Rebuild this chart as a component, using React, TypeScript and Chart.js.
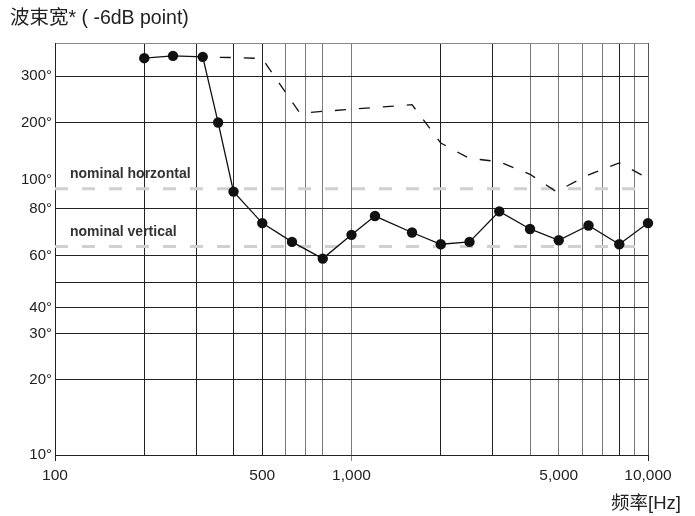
import React, { useEffect, useRef } from 'react';
import { Chart, registerables, LinearScale } from 'chart.js';

Chart.register(...registerables);

// ---------------- data ----------------
const freqHz = [200, 250, 315, 355, 400, 500, 630, 800, 1000, 1200, 1600, 2000, 2500, 3150, 4000, 5000, 6300, 8000, 10000];
const beamWidthDeg = [354, 361, 358, 201, 92, 74, 66, 59, 69, 77, 70, 65, 66, 79, 71.5, 66.7, 73, 65, 74];
const dashedFreqHz = [315, 400, 500, 670, 1600, 2000, 2200, 2500, 3150, 4000, 4900, 6300, 8000, 10000];
const dashedDeg = [357, 356, 353, 221, 239, 165, 153, 138, 132, 110, 92, 109, 130, 103];
const nominalRangeHz = [100, 10000];
const nominalHorizontalDeg = [94, 94];
const nominalVerticalDeg = [64, 64];
const xTickValues = [100, 200, 300, 400, 500, 600, 700, 800, 1000, 2000, 3000, 4000, 5000, 6000, 7000, 8000, 9000, 10000];
const xLabeledTicks = [100, 500, 1000, 5000, 10000];
const xDarkGrid = [200, 300, 400, 500, 2000, 3000, 8000];
const yTickValues = [10, 20, 30, 40, 50, 60, 80, 100, 200, 300, 400];
const yLabeledTicks = [10, 20, 30, 40, 60, 80, 100, 200, 300];
const titleText = '波束宽* ( -6dB point)';
const xAxisTitle = '频率[Hz]';
const nominalHLabel = 'nominal horzontal';
const nominalVLabel = 'nominal vertical';

// ---------------- custom non-uniform degree axis ----------------
const Y_KNOTS = [10, 20, 30, 40, 50, 60, 80, 100, 200, 300, 400];
const Y_FRACS = [0, 0.18204, 0.29369, 0.3568, 0.4199, 0.48301, 0.59709, 0.66748, 0.80583, 0.9199, 1];

function valueToFrac(v: number): number {
  const kv = Y_KNOTS, kf = Y_FRACS;
  for (let i = 1; i < kv.length; i++) {
    if (v <= kv[i] || i === kv.length - 1) {
      const t = (v - kv[i - 1]) / (kv[i] - kv[i - 1]);
      return kf[i - 1] + t * (kf[i] - kf[i - 1]);
    }
  }
  return 0;
}
function fracToValue(f: number): number {
  const kv = Y_KNOTS, kf = Y_FRACS;
  for (let i = 1; i < kf.length; i++) {
    if (f <= kf[i] || i === kf.length - 1) {
      const t = (f - kf[i - 1]) / (kf[i] - kf[i - 1]);
      return kv[i - 1] + t * (kv[i] - kv[i - 1]);
    }
  }
  return kv[0];
}

class PiecewiseScale extends LinearScale {
  static id = 'piecewise';
  static defaults = {};
  getPixelForValue(value: any) {
    if (value === null || value === undefined || isNaN(value)) return NaN;
    return (this as any).getPixelForDecimal(valueToFrac(+value));
  }
  getValueForPixel(pixel: number) {
    return fracToValue((this as any).getDecimalForPixel(pixel));
  }
}
Chart.register(PiecewiseScale as any);

const FONT = '"Liberation Sans", Arial, "Noto Sans CJK SC", sans-serif';

const textPlugin = {
  id: 'extraText',
  afterDraw(chart: any) {
    const { ctx, chartArea, scales } = chart;
    ctx.save();
    ctx.fillStyle = '#222';
    ctx.textBaseline = 'middle';
    ctx.textAlign = 'left';
    ctx.font = '19.5px ' + FONT;
    ctx.fillText(titleText, 10, 19);
    ctx.textAlign = 'right';
    ctx.font = '18.5px ' + FONT;
    ctx.fillText(xAxisTitle, 681, 504);
    ctx.textAlign = 'left';
    ctx.fillStyle = '#333';
    ctx.font = 'bold 14px ' + FONT;
    ctx.fillText(nominalHLabel, chartArea.left + 15, scales.y.getPixelForValue(nominalHorizontalDeg[0]) - 15);
    ctx.fillText(nominalVLabel, chartArea.left + 15, scales.y.getPixelForValue(nominalVerticalDeg[0]) - 14);
    ctx.restore();
  },
};

export default function App() {
  const ref = useRef<HTMLCanvasElement | null>(null);
  useEffect(() => {
    if (!ref.current) return;
    const mainData = freqHz.map((f, i) => ({ x: f, y: beamWidthDeg[i] }));
    const dashData = dashedFreqHz.map((f, i) => ({ x: f, y: dashedDeg[i] }));
    const nomH = nominalRangeHz.map((f, i) => ({ x: f, y: nominalHorizontalDeg[i] }));
    const nomV = nominalRangeHz.map((f, i) => ({ x: f, y: nominalVerticalDeg[i] }));
    const chart = new Chart(ref.current, {
      type: 'line',
      data: {
        datasets: [
          {
            data: mainData,
            borderColor: '#111',
            borderWidth: 1.3,
            pointRadius: 5.2,
            pointBackgroundColor: '#111',
            pointBorderWidth: 0,
            tension: 0,
            clip: false,
          } as any,
          {
            data: dashData,
            borderColor: '#111',
            borderWidth: 1.3,
            borderDash: [11, 13],
            borderDashOffset: 7,
            pointRadius: 0,
            tension: 0,
            clip: false,
          },
          {
            data: nomH,
            borderColor: '#d0d0d0',
            borderWidth: 3,
            borderDash: [13, 14],
            pointRadius: 0,
          },
          {
            data: nomV,
            borderColor: '#d0d0d0',
            borderWidth: 3,
            borderDash: [13, 14],
            pointRadius: 0,
          },
        ],
      },
      options: {
        animation: false,
        responsive: false,
        maintainAspectRatio: false,
        layout: { padding: { left: 0, right: 47, top: 43, bottom: 0 } },
        plugins: {
          legend: { display: false },
          tooltip: { enabled: false },
          title: { display: false },
        },
        scales: {
          x: {
            type: 'logarithmic',
            min: 100,
            max: 10000,
            afterBuildTicks: (s: any) => {
              s.ticks = xTickValues.map((v) => ({ value: v }));
            },
            afterFit: (s: any) => {
              s.height = 61;
            },
            ticks: {
              autoSkip: false,
              maxRotation: 0,
              padding: 5,
              color: '#222',
              font: { family: FONT, size: 15.5 },
              callback: (v: any) => (xLabeledTicks.includes(+v) ? (+v).toLocaleString('en-US') : ''),
            },
            grid: {
              lineWidth: 1,
              color: (c: any) => {
                const v = c.tick ? c.tick.value : 0;
                if (v === 100) return 'rgba(0,0,0,0)';
                if (v === 10000) return '#555';
                return xDarkGrid.includes(v) ? '#222' : '#7a7a7a';
              },
              drawTicks: true,
              tickLength: 6,
              tickColor: (c: any) => {
                const v = c.tick ? c.tick.value : 0;
                return v === 100 || v === 10000 ? '#222' : v === 1000 ? '#888' : 'rgba(0,0,0,0)';
              },
            },
            border: { color: '#222', width: 1 },
          } as any,
          y: {
            type: 'piecewise',
            min: 10,
            max: 400,
            afterBuildTicks: (s: any) => {
              s.ticks = yTickValues.map((v) => ({ value: v }));
            },
            afterFit: (s: any) => {
              s.width = 55;
            },
            ticks: {
              autoSkip: false,
              padding: 3,
              color: '#222',
              font: { family: FONT, size: 15 },
              callback: (v: any) => (yLabeledTicks.includes(+v) ? v + '°' : ''),
            },
            grid: {
              lineWidth: 1,
              drawTicks: false,
              color: (c: any) => {
                const v = c.tick ? c.tick.value : 0;
                if (v === 400) return '#888';
                if (v === 100 || v === 10) return 'rgba(0,0,0,0)';
                return '#222';
              },
            },
            border: { color: '#222', width: 1 },
          } as any,
        },
      },
      plugins: [textPlugin],
    });
    return () => chart.destroy();
  }, []);
  return (
    <canvas
      ref={ref}
      width={695}
      height={516}
      style={{ position: 'absolute', left: 0, top: 0, display: 'block' }}
    />
  );
}
